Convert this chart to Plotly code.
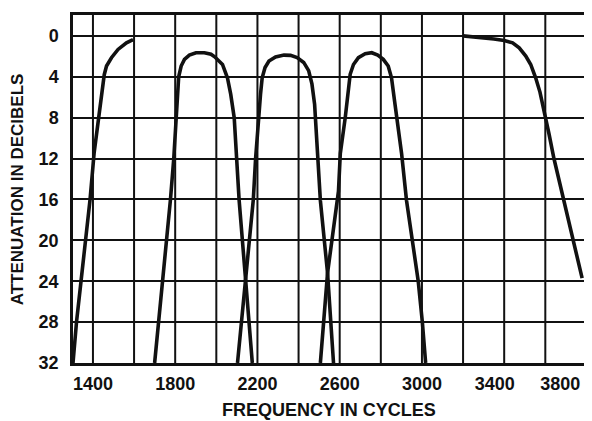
import plotly.graph_objects as go

# ---- data ----
hp_freq = [1303, 1320, 1342, 1365, 1386, 1406, 1426, 1439, 1445, 1455, 1466, 1490, 1522, 1563, 1595]
hp_db = [32, 28, 24, 20, 16, 11.4, 8.0, 6.0, 4.9, 3.8, 2.95, 2.14, 1.33, 0.68, 0.36]

bp1_freq = [1700, 1720, 1739, 1758, 1777, 1793, 1805, 1809, 1817, 1829, 1845, 1869, 1901, 1942,
            1974, 1992, 2006, 2030, 2054, 2070, 2087, 2098, 2111, 2143, 2175]
bp1_db = [32, 28, 24, 20, 16, 12, 8, 6, 4, 2.95, 2.3, 1.88, 1.65, 1.65,
          1.8, 2.05, 2.3, 2.8, 4.1, 5.7, 8.0, 11.9, 16.1, 24, 32]

bp2_freq = [2103, 2142, 2180, 2191, 2204, 2215, 2223, 2237, 2256, 2288, 2329, 2361, 2393, 2425,
            2449, 2465, 2478, 2485, 2493, 2506, 2541, 2570]
bp2_db = [32, 24, 16, 12, 8, 5.7, 4.1, 3.1, 2.46, 2.07, 1.88, 1.91, 2.13, 2.6,
          3.4, 4.7, 6.7, 8.9, 11.9, 16.1, 23.2, 32]

bp3_freq = [2506, 2541, 2594, 2603, 2627, 2643, 2651, 2667, 2691, 2724, 2756, 2785, 2812, 2836,
            2852, 2869, 2885, 2901, 2925, 2953, 2982, 3002, 3018]
bp3_db = [32, 23.2, 15.2, 11.5, 8, 5, 3.76, 2.8, 2.14, 1.75, 1.65, 1.88, 2.3, 2.95,
          4.1, 6.7, 8.9, 11.5, 16.1, 20, 24, 28, 32]

lp_freq = [3200, 3300, 3350, 3400, 3441, 3473, 3505, 3529, 3553, 3574, 3597, 3618, 3642, 3666,
           3691, 3731, 3779]
lp_db = [0, 0.15, 0.3, 0.45, 0.68, 1.17, 1.97, 2.8, 4.1, 5.5, 7.5, 9.6, 12, 14.1,
         16.1, 19.5, 23.7]

x_tick_labels = ["1400", "1800", "2200", "2600", "3000", "3400", "3800"]
x_tick_vals = [1400, 1800, 2200, 2600, 3000, 3354, 3673]
y_tick_vals = [0, 4, 8, 12, 16, 20, 24, 28, 32]
grid_freqs = list(range(1400, 3601, 200))

FONT = "Liberation Sans, Arial, sans-serif"
INK = "#111111"

# the page body keeps its default 8px margin, so the figure is sized to fit inside it
BODY = 8
W, H = 592 - BODY, 421 - BODY
PLOT_W = 515
PLOT_H = 351

fig = go.Figure()
for fx, fy in [(hp_freq, hp_db), (bp1_freq, bp1_db), (bp2_freq, bp2_db),
               (bp3_freq, bp3_db), (lp_freq, lp_db)]:
    fig.add_trace(go.Scatter(x=fx, y=fy, mode="lines",
                             line=dict(color=INK, width=3.6),
                             showlegend=False, hoverinfo="skip"))

for g in grid_freqs:
    fig.add_shape(type="line", xref="x", yref="paper", x0=g, x1=g, y0=0, y1=1,
                  line=dict(color=INK, width=2), layer="below")

fig.update_layout(
    width=W, height=H,
    margin=dict(l=73 - BODY, r=4, t=12 - BODY, b=H - (363 - BODY)),
    paper_bgcolor="white", plot_bgcolor="white",
    font=dict(family=FONT, color=INK, size=18, weight="bold"),
    xaxis=dict(range=[1303, 3793], tickvals=x_tick_vals, ticktext=x_tick_labels,
               showgrid=False, zeroline=False, ticks="", ticklabelstandoff=3,
               showline=True, mirror=True, linecolor=INK, linewidth=2.5,
               tickfont=dict(size=18, family=FONT, weight="bold")),
    yaxis=dict(range=[32, -2.04], tickvals=y_tick_vals,
               showgrid=True, gridcolor=INK, gridwidth=2, zeroline=False,
               ticks="", ticklabelstandoff=8,
               showline=True, mirror=True, linecolor=INK, linewidth=2.5,
               tickfont=dict(size=18, family=FONT, weight="bold")),
    annotations=[
        dict(text="ATTENUATION IN DECIBELS", xref="paper", yref="paper",
             x=-56 / PLOT_W, y=0.5, xanchor="center", yanchor="middle",
             textangle=-90, showarrow=False,
             font=dict(size=17, family=FONT, weight="bold", color=INK)),
        dict(text="FREQUENCY IN CYCLES", xref="paper", yref="paper",
             x=0.5, y=-47 / PLOT_H, xanchor="center", yanchor="middle",
             showarrow=False,
             font=dict(size=18, family=FONT, weight="bold", color=INK)),
    ],
)

fig.write_html("out.html")
